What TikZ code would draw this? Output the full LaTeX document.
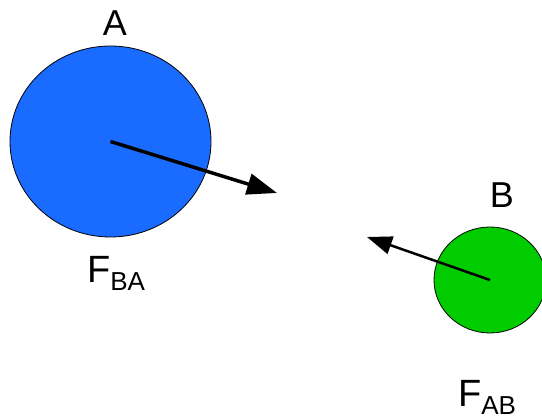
\documentclass[tikz,border=0pt]{standalone}
\usepackage{fontspec}
\setmainfont{Liberation Sans}
\usetikzlibrary{arrows.meta,shapes.geometric}
\definecolor{BodyBlue}{HTML}{1A6BFF}
\definecolor{BodyGreen}{HTML}{00CC00}
\newcommand{\forcelbl}[1]{{\fontsize{38}{40}\selectfont F}\raisebox{-7.5pt}{\fontsize{26}{26}\selectfont #1}}

\begin{document}
\begin{tikzpicture}[
  x=1pt,y=1pt,
  every node/.style={font=\fontsize{36}{40}\selectfont},
  body/.style={ellipse,draw=black,line width=0.8pt,inner sep=0pt},
  force/.style={-{Triangle[length=30pt,width=21pt]},color=black}
]
\useasboundingbox (0,0) rectangle (542,417);
\node[body,fill=BodyBlue,minimum width=201pt,minimum height=191pt] (bodyA) at (110.5,275.5) {};
\node[body,fill=BodyGreen,minimum width=112pt,minimum height=106pt] (bodyB) at (490,137) {};
\coordinate (tipA) at (277,224);
\coordinate (tipB) at (367,180);
\draw[force,line width=3.5pt] (bodyA.center) -- (tipA);
\draw[force,line width=2.5pt,-{Triangle[length=25pt,width=18pt]}] (bodyB.center) -- (tipB);
\node (lblA) at (115,394) {A};
\node (lblB) at (502,222) {B};
\node[anchor=base] (fBA) at (116,134) {\forcelbl{BA}};
\node[anchor=base] (fAB) at (487,10) {\forcelbl{AB}};
\end{tikzpicture}
\end{document}
